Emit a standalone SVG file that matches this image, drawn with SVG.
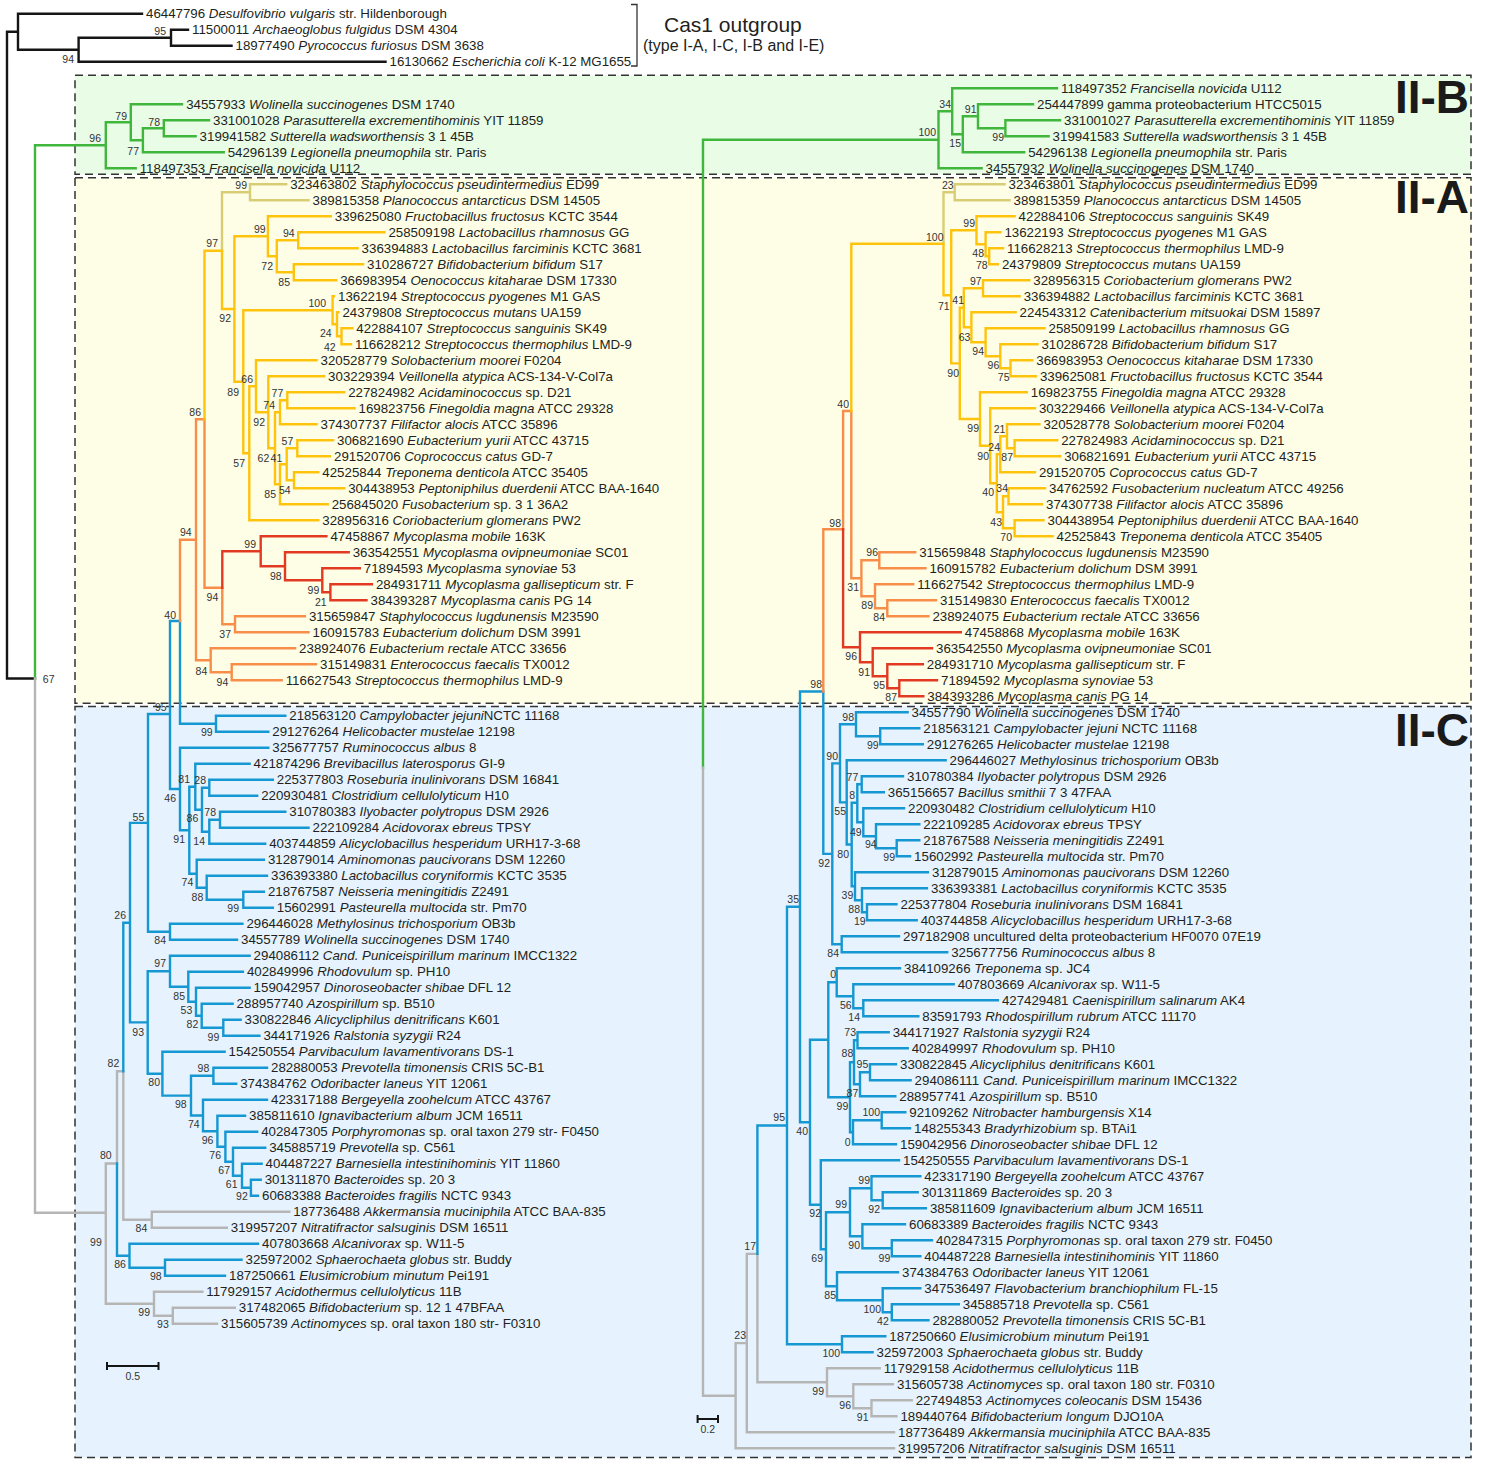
<svg xmlns="http://www.w3.org/2000/svg" width="1485" height="1459" viewBox="0 0 1485 1459">
<style>
.t{font-family:"Liberation Sans",Arial,sans-serif;font-size:13.3px;fill:#231f20}
.i{font-style:italic}
.s{font-family:"Liberation Sans",Arial,sans-serif;font-size:10.5px;fill:#333;text-anchor:end}
.big{font-family:"Liberation Sans",Arial,sans-serif;font-size:46px;font-weight:bold;fill:#1a1a1a;text-anchor:end}
.box{stroke:#333;stroke-width:1.5;stroke-dasharray:8 5}
path{fill:none;stroke-width:2.4;stroke-linecap:square}
.k{stroke:#151515}.g{stroke:#40b63c}.y{stroke:#fec30d}.l{stroke:#d8cd74}.o{stroke:#f88d4a}.r{stroke:#e23a22}.b{stroke:#1597d2}.a{stroke:#b5b5b5}
.sc{stroke:#151515;stroke-width:2;stroke-linecap:butt}
</style>
<rect width="1485" height="1459" fill="#fff"/>
<g id="clade-boxes">
<rect class="box" x="75" y="75.3" width="1396" height="99" fill="#e8fce6"/>
<rect class="box" x="75" y="177.7" width="1396" height="525.6" fill="#fefee7"/>
<rect class="box" x="75" y="706.5" width="1396" height="751" fill="#e6f3fe"/>
<text class="big" x="1469" y="113">II-B</text>
<text class="big" x="1469" y="213">II-A</text>
<text class="big" x="1469" y="746">II-C</text>
</g>
<g id="outgroup-note">
<path d="M631 4.5H637V66H631" style="stroke:#333;stroke-width:1.3;stroke-linecap:butt"/>
<text x="664" y="32" style="font-family:'Liberation Sans',Arial,sans-serif;font-size:21px;fill:#231f20">Cas1 outgroup</text>
<text x="643" y="51" style="font-family:'Liberation Sans',Arial,sans-serif;font-size:16px;fill:#231f20">(type I-A, I-C, I-B and I-E)</text>
</g>
<g id="connectors">
<path class="k" d="M7 31.7V678.5M7 31.7H18M18 13.7V49.7M18 13.7H142M18 49.7H78.6M78.6 37.7V61.7M78.6 37.7H171M171 29.7V45.7M171 29.7H188M171 45.7H231.5M78.6 61.7H385.5M7 678.5H35"/>
<path class="g" d="M35 145.3V678.5M35 145.3H105.8M105.8 122.3V168.3M105.8 168.3H135.7M105.8 122.3H130.8M130.8 104.3V140.3M130.8 104.3H182M130.8 140.3H142.9M142.9 128.3V152.3M142.9 152.3H223.7M142.9 128.3H163.8M163.8 120.3V136.3M163.8 120.3H209M163.8 136.3H195.6"/>
<path class="a" d="M35 678.5V1212.7M35 1212.7H105.8M105.8 1163.5V1303.7M105.8 1163.5H117M117 1071.2V1163.5M117 1071.2H123.3M123.3 1071.2V1219.7M123.3 1219.7H151.8M151.8 1211.7V1227.7M151.8 1211.7H289.3M151.8 1227.7H226.8M105.8 1303.7H154M154 1291.7V1315.7M154 1291.7H202.3M154 1315.7H172.8M172.8 1307.7V1323.7M172.8 1307.7H234.8M172.8 1323.7H217"/>
<path class="b" d="M117 1163.5V1255.7M117 1255.7H129.5M129.5 1243.7V1267.7M129.5 1243.7H258M129.5 1267.7H165M165 1259.7V1275.7M165 1259.7H241.5M165 1275.7H225M123.3 922.7V1071.2M123.3 922.7H130M130 822.9V1022.4M130 822.9H148M148 714V931.7M148 714H170M170 621V789M170 621H180M180 621V723.7M180 723.7H216M216 715.7V731.7M216 715.7H285.3M216 731.7H268.3M170 789H180M180 747.7V830.2M180 747.7H268.3M180 830.2H189.3M189.3 786.7V873.7M189.3 786.7H195.3M195.3 763.7V809.7M195.3 763.7H249.6M195.3 809.7H202M202 787.7V831.7M202 787.7H209.3M209.3 779.7V795.7M209.3 779.7H272.8M209.3 795.7H257.2M202 831.7H209.3M209.3 819.7V843.7M209.3 819.7H220M220 811.7V827.7M220 811.7H285.3M220 827.7H308.5M209.3 843.7H265.2M189.3 873.7H196.7M196.7 859.7V887.7M196.7 859.7H263.9M196.7 887.7H206.7M206.7 875.7V899.7M206.7 875.7H267M206.7 899.7H243.3M243.3 891.7V907.7M243.3 891.7H263.9M243.3 907.7H272.8M148 931.7H170M170 923.7V939.7M170 923.7H242.4M170 939.7H237M130 1022.4H147.7M147.7 971.2V1073.7M147.7 971.2H170M170 955.7V986.7M170 955.7H249.6M170 986.7H188.3M188.3 971.7V1001.7M188.3 971.7H242.9M188.3 1001.7H196M196 987.7V1015.7M196 987.7H249.6M196 1015.7H201.7M201.7 1003.7V1027.7M201.7 1003.7H232.6M201.7 1027.7H223.3M223.3 1019.7V1035.7M223.3 1019.7H240.6M223.3 1035.7H259.4M147.7 1073.7H162.4M162.4 1051.7V1095.6M162.4 1051.7H224.6M162.4 1095.6H191M191 1075.7V1115.5M191 1075.7H213.4M213.4 1067.7V1083.7M213.4 1067.7H267M213.4 1083.7H236.2M191 1115.5H203M203 1099.7V1131.2M203 1099.7H267M203 1131.2H217.4M217.4 1115.7V1146.7M217.4 1115.7H245.1M217.4 1146.7H225.4M225.4 1131.7V1161.7M225.4 1131.7H257.2M225.4 1161.7H233M233 1147.7V1175.7M233 1147.7H265.2M233 1175.7H242M242 1163.7V1187.7M242 1163.7H261.6M242 1187.7H250.9M250.9 1179.7V1195.7M250.9 1179.7H260.7M250.9 1195.7H258"/>
<path class="o" d="M180 539.8V621M180 539.8H196M196 419.3V660.3M196 419.3H204.5M204.5 419.3V587.8M204.5 587.8H222.3M222.3 587.8V624.3M222.3 624.3H235M235 616.3V632.3M235 616.3H304.9M235 632.3H308.5M196 660.3H210.7M210.7 648.3V672.3M210.7 648.3H295.1M210.7 672.3H231.7M231.7 664.3V680.3M231.7 664.3H316M231.7 680.3H281.7"/>
<path class="r" d="M222.3 551.3V587.8M222.3 551.3H260.7M260.7 536.3V566.3M260.7 536.3H326.4M260.7 566.3H285M285 552.3V580.3M285 552.3H348.7M285 580.3H322.3M322.3 568.3V592.3M322.3 568.3H359.8M322.3 592.3H330.4M330.4 584.3V600.3M330.4 584.3H371.9M330.4 600.3H366.5"/>
<path class="l" d="M222 192.3V250.7M222 192.3H250M250 184.3V200.3M250 184.3H286.2M250 200.3H308.5"/>
<path class="y" d="M204.5 250.7V419.3M204.5 250.7H222M222 250.7V309M222 309H234.4M234.4 236.3V381.8M234.4 236.3H267.9M267.9 216.3V256.3M267.9 216.3H330.8M267.9 256.3H276.8M276.8 240.3V272.3M276.8 240.3H298.2M298.2 232.3V248.3M298.2 232.3H384.4M298.2 248.3H357.6M276.8 272.3H293.8M293.8 264.3V280.3M293.8 264.3H363M293.8 280.3H336.2M234.4 381.8H243.3M243.3 310.3V453.3M243.3 310.3H332.6M332.6 296.3V324.3M332.6 296.3H334M332.6 324.3H337M337 312.3V336.3M337 312.3H338.4M337 336.3H341.5M341.5 328.3V344.3M341.5 328.3H352.3M341.5 344.3H351M243.3 453.3H249.3M249.3 386.3V520.3M249.3 520.3H318.3M249.3 386.3H256M256 360.3V412.3M256 360.3H316.5M256 412.3H268.3M268.3 376.3V448.3M268.3 376.3H324.1M268.3 448.3H275M275 412.3V484.3M275 412.3H280M280 400.3V424.3M280 400.3H287.3M287.3 392.3V408.3M287.3 392.3H344.2M287.3 408.3H354.5M280 424.3H316.5M275 484.3H280M280 464.3V504.3M280 464.3H286.7M286.7 448.3V480.3M286.7 448.3H297.3M297.3 440.3V456.3M297.3 440.3H333M297.3 456.3H330M286.7 480.3H294M294 472.3V488.3M294 472.3H318.3M294 488.3H344.2M280 504.3H327.7"/>
<path class="g" d="M703 139.8V767.7M703 139.8H938.5M938.5 111.3V168.3M938.5 168.3H981.6M938.5 111.3H952.2M952.2 88.3V134.3M952.2 88.3H1057M952.2 134.3H962.8M962.8 116.3V152.3M962.8 152.3H1024.2M962.8 116.3H978M978 104.3V128.3M978 104.3H1033M978 128.3H1005.4M1005.4 120.3V136.3M1005.4 120.3H1060M1005.4 136.3H1048.6"/>
<path class="a" d="M703 767.7V1395.7M703 1395.7H735.6M735.6 1343.1V1448.3M735.6 1448.3H894M735.6 1343.1H746.8M746.8 1253.9V1432.3M746.8 1432.3H894M746.8 1253.9H757.4M757.4 1253.9V1382.3M757.4 1382.3H827M827 1368.3V1396.3M827 1368.3H879.7M827 1396.3H853.3M853.3 1384.3V1408.3M853.3 1384.3H892.9M853.3 1408.3H871.5M871.5 1400.3V1416.3M871.5 1400.3H911.7M871.5 1416.3H896.4"/>
<path class="b" d="M757.4 1125.5V1253.9M757.4 1125.5H787M787 906.8V1344.3M787 1344.3H842M842 1336.3V1352.3M842 1336.3H885.3M842 1352.3H872.6M787 906.8H800M800 691.5V1122.3M800 691.5H823.3M823.3 691.5V853.9M823.3 853.9H832.3M832.3 763.4V944.3M832.3 944.3H841.7M841.7 936.3V952.3M841.7 936.3H899M841.7 952.3H947.2M832.3 763.4H840M840 724.3V802.4M840 724.3H856M856 712.3V736.3M856 712.3H907.6M856 736.3H880.2M880.2 728.3V744.3M880.2 728.3H919.3M880.2 744.3H922.8M840 802.4H846.7M846.7 760.3V844.5M846.7 760.3H945.6M846.7 844.5H851.7M851.7 802.8V886.3M851.7 802.8H857.3M857.3 784.3V822.3M857.3 784.3H861.7M861.7 776.3V792.3M861.7 776.3H903M861.7 792.3H883.8M857.3 822.3H863.3M863.3 808.3V836.3M863.3 808.3H904M863.3 836.3H876M876 824.3V848.3M876 824.3H919.3M876 848.3H896.7M896.7 840.3V856.3M896.7 840.3H919.3M896.7 856.3H910.1M851.7 886.3H855M855 872.3V900.3M855 872.3H927.9M855 900.3H862M862 888.3V912.3M862 888.3H926.9M862 912.3H867M867 904.3V920.3M867 904.3H896.4M867 920.3H916.7M800 1122.3H810M810 1039.8V1204.8M810 1039.8H828.3M828.3 982.3V1097.3M828.3 982.3H836.7M836.7 968.3V996.3M836.7 968.3H900M836.7 996.3H853.3M853.3 984.3V1008.3M853.3 984.3H953.7M853.3 1008.3H863.3M863.3 1000.3V1016.3M863.3 1000.3H997.9M863.3 1016.3H918.3M828.3 1097.3H850M850 1062.3V1132.3M850 1062.3H854M854 1040.3V1084.3M854 1040.3H857.5M857.5 1032.3V1048.3M857.5 1032.3H888.7M857.5 1048.3H907.7M854 1084.3H860M860 1072.3V1096.3M860 1072.3H870M870 1064.3V1080.3M870 1064.3H896M870 1080.3H910.6M860 1096.3H895.3M850 1132.3H853M853 1120.3V1144.3M853 1120.3H881.7M881.7 1112.3V1128.3M881.7 1112.3H905.3M881.7 1128.3H910M853 1144.3H896M810 1204.8H820.8M820.8 1160.3V1249.3M820.8 1160.3H899M820.8 1249.3H826M826 1212.3V1286.3M826 1212.3H850M850 1188.3V1236.3M850 1188.3H871.5M871.5 1176.3V1200.3M871.5 1176.3H920.3M871.5 1200.3H882.7M882.7 1192.3V1208.3M882.7 1192.3H917.7M882.7 1208.3H925.9M850 1236.3H862.4M862.4 1224.3V1248.3M862.4 1224.3H905M862.4 1248.3H891.8M891.8 1240.3V1256.3M891.8 1240.3H932M891.8 1256.3H920.3M826 1286.3H837M837 1272.3V1300.3M837 1272.3H898M837 1300.3H882.7M882.7 1288.3V1312.3M882.7 1288.3H920.3M882.7 1312.3H891.8M891.8 1304.3V1320.3M891.8 1304.3H958.8M891.8 1320.3H928.4"/>
<path class="o" d="M823.3 529.2V691.5M823.3 529.2H843.1M843.1 411V529.2M843.1 411H851.3M851.3 411V578.3M851.3 578.3H861.4M861.4 560.3V596.3M861.4 560.3H879.3M879.3 552.3V568.3M879.3 552.3H915.2M879.3 568.3H925.4M861.4 596.3H875M875 584.3V608.3M875 584.3H913.2M875 608.3H887.3M887.3 600.3V616.3M887.3 600.3H936M887.3 616.3H928.4"/>
<path class="r" d="M843.1 529.2V647.3M843.1 647.3H860M860 632.3V662.3M860 632.3H960.8M860 662.3H872.7M872.7 648.3V676.3M872.7 648.3H932M872.7 676.3H887.3M887.3 664.3V688.3M887.3 664.3H922.8M887.3 688.3H899.3M899.3 680.3V696.3M899.3 680.3H937M899.3 696.3H923.3"/>
<path class="l" d="M943.5 192.3V243.8M943.5 192.3H954.7M954.7 184.3V200.3M954.7 184.3H1004.5M954.7 200.3H1009.5"/>
<path class="y" d="M851.3 243.8V411M851.3 243.8H943.5M943.5 243.8V295.3M943.5 295.3H951.2M951.2 230.3V363.4M951.2 230.3H976.5M976.5 216.3V244.3M976.5 216.3H1014.6M976.5 244.3H985.6M985.6 232.3V256.3M985.6 232.3H1000.4M985.6 256.3H989.2M989.2 248.3V264.3M989.2 248.3H1003M989.2 264.3H997.9M951.2 363.4H959.8M959.8 307.8V419M959.8 307.8H963.8M963.8 288.3V327.3M963.8 288.3H983M983 280.3V296.3M983 280.3H1029.3M983 296.3H1019.7M963.8 327.3H971.4M971.4 312.3V342.3M971.4 312.3H1015.6M971.4 342.3H985.6M985.6 328.3V356.3M985.6 328.3H1044.5M985.6 356.3H1000.3M1000.3 344.3V368.3M1000.3 344.3H1037.4M1000.3 368.3H1010.5M1010.5 360.3V376.3M1010.5 360.3H1032.3M1010.5 376.3H1035.9M959.8 419H980M980 392.3V445.8M980 392.3H1026.8M980 445.8H990.2M990.2 408.3V483.3M990.2 408.3H1034.9M990.2 483.3H996.8M996.8 454.3V512.3M996.8 454.3H1000.3M1000.3 436.3V472.3M1000.3 472.3H1034.9M1000.3 436.3H1007M1007 424.3V448.3M1007 424.3H1039.4M1007 448.3H1014.6M1014.6 440.3V456.3M1014.6 440.3H1057.2M1014.6 456.3H1060.2M996.8 512.3H1003M1003 496.3V528.3M1003 496.3H1008.5M1008.5 488.3V504.3M1008.5 488.3H1045M1008.5 504.3H1042M1003 528.3H1014.6M1014.6 520.3V536.3M1014.6 520.3H1043.5M1014.6 536.3H1052.6"/>
</g>
<g id="scale-bars">
<path class="sc" d="M107 1366H158.5M107 1362V1370M158.5 1362V1370M697.6 1419H718M697.6 1415V1423M718 1415V1423"/>
<text class="s" x="140" y="1380">0.5</text>
<text class="s" x="715" y="1433">0.2</text>
</g>
<g id="left-outgroup">
<text class="t" x="146" y="18.3">46447796 <tspan class="i">Desulfovibrio vulgaris</tspan> str. Hildenborough</text>
<text class="t" x="192" y="34.3">11500011 <tspan class="i">Archaeoglobus fulgidus</tspan> DSM 4304</text>
<text class="t" x="235.5" y="50.3">18977490 <tspan class="i">Pyrococcus furiosus</tspan> DSM 3638</text>
<text class="t" x="389.5" y="66.3">16130662 <tspan class="i">Escherichia coli</tspan> K-12 MG1655</text>
</g>
<g id="left-IIB">
<text class="t" x="186.2" y="108.9">34557933 <tspan class="i">Wolinella succinogenes</tspan> DSM 1740</text>
<text class="t" x="213" y="124.9">331001028 <tspan class="i">Parasutterella excrementihominis</tspan> YIT 11859</text>
<text class="t" x="199.6" y="140.9">319941582 <tspan class="i">Sutterella wadsworthensis</tspan> 3 1 45B</text>
<text class="t" x="227.7" y="156.9">54296139 <tspan class="i">Legionella pneumophila</tspan> str. Paris</text>
<text class="t" x="139.7" y="172.9">118497353 <tspan class="i">Francisella novicida</tspan> U112</text>
</g>
<g id="left-IIA">
<text class="t" x="290.2" y="188.9">323463802 <tspan class="i">Staphylococcus pseudintermedius</tspan> ED99</text>
<text class="t" x="312.5" y="204.9">389815358 <tspan class="i">Planococcus antarcticus</tspan> DSM 14505</text>
<text class="t" x="334.8" y="220.9">339625080 <tspan class="i">Fructobacillus fructosus</tspan> KCTC 3544</text>
<text class="t" x="388.4" y="236.9">258509198 <tspan class="i">Lactobacillus rhamnosus</tspan> GG</text>
<text class="t" x="361.6" y="252.9">336394883 <tspan class="i">Lactobacillus farciminis</tspan> KCTC 3681</text>
<text class="t" x="367" y="268.9">310286727 <tspan class="i">Bifidobacterium bifidum</tspan> S17</text>
<text class="t" x="340.2" y="284.9">366983954 <tspan class="i">Oenococcus kitaharae</tspan> DSM 17330</text>
<text class="t" x="338" y="300.9">13622194 <tspan class="i">Streptococcus pyogenes</tspan> M1 GAS</text>
<text class="t" x="342.4" y="316.9">24379808 <tspan class="i">Streptococcus mutans</tspan> UA159</text>
<text class="t" x="356.3" y="332.9">422884107 <tspan class="i">Streptococcus sanguinis</tspan> SK49</text>
<text class="t" x="355" y="348.9">116628212 <tspan class="i">Streptococcus thermophilus</tspan> LMD-9</text>
<text class="t" x="320.5" y="364.9">320528779 <tspan class="i">Solobacterium moorei</tspan> F0204</text>
<text class="t" x="328.1" y="380.9">303229394 <tspan class="i">Veillonella atypica</tspan> ACS-134-V-Col7a</text>
<text class="t" x="348.2" y="396.9">227824982 <tspan class="i">Acidaminococcus</tspan> sp. D21</text>
<text class="t" x="358.5" y="412.9">169823756 <tspan class="i">Finegoldia magna</tspan> ATCC 29328</text>
<text class="t" x="320.5" y="428.9">374307737 <tspan class="i">Filifactor alocis</tspan> ATCC 35896</text>
<text class="t" x="337" y="444.9">306821690 <tspan class="i">Eubacterium yurii</tspan> ATCC 43715</text>
<text class="t" x="334" y="460.9">291520706 <tspan class="i">Coprococcus catus</tspan> GD-7</text>
<text class="t" x="322.3" y="476.9">42525844 <tspan class="i">Treponema denticola</tspan> ATCC 35405</text>
<text class="t" x="348.2" y="492.9">304438953 <tspan class="i">Peptoniphilus duerdenii</tspan> ATCC BAA-1640</text>
<text class="t" x="331.7" y="508.9">256845020 <tspan class="i">Fusobacterium</tspan> sp. 3 1 36A2</text>
<text class="t" x="322.3" y="524.9">328956316 <tspan class="i">Coriobacterium glomerans</tspan> PW2</text>
<text class="t" x="330.4" y="540.9">47458867 <tspan class="i">Mycoplasma mobile</tspan> 163K</text>
<text class="t" x="352.7" y="556.9">363542551 <tspan class="i">Mycoplasma ovipneumoniae</tspan> SC01</text>
<text class="t" x="363.8" y="572.9">71894593 <tspan class="i">Mycoplasma synoviae</tspan> 53</text>
<text class="t" x="375.9" y="588.9">284931711 <tspan class="i">Mycoplasma gallisepticum</tspan> str. F</text>
<text class="t" x="370.5" y="604.9">384393287 <tspan class="i">Mycoplasma canis</tspan> PG 14</text>
<text class="t" x="308.9" y="620.9">315659847 <tspan class="i">Staphylococcus lugdunensis</tspan> M23590</text>
<text class="t" x="312.5" y="636.9">160915783 <tspan class="i">Eubacterium dolichum</tspan> DSM 3991</text>
<text class="t" x="299.1" y="652.9">238924076 <tspan class="i">Eubacterium rectale</tspan> ATCC 33656</text>
<text class="t" x="320" y="668.9">315149831 <tspan class="i">Enterococcus faecalis</tspan> TX0012</text>
<text class="t" x="285.7" y="684.9">116627543 <tspan class="i">Streptococcus thermophilus</tspan> LMD-9</text>
</g>
<g id="left-IIC">
<text class="t" x="289.3" y="720.3">218563120 <tspan class="i">Campylobacter jejuni</tspan>NCTC 11168</text>
<text class="t" x="272.3" y="736.3">291276264 <tspan class="i">Helicobacter mustelae</tspan> 12198</text>
<text class="t" x="272.3" y="752.3">325677757 <tspan class="i">Ruminococcus albus</tspan> 8</text>
<text class="t" x="253.6" y="768.3">421874296 <tspan class="i">Brevibacillus laterosporus</tspan> GI-9</text>
<text class="t" x="276.8" y="784.3">225377803 <tspan class="i">Roseburia inulinivorans</tspan> DSM 16841</text>
<text class="t" x="261.2" y="800.3">220930481 <tspan class="i">Clostridium cellulolyticum</tspan> H10</text>
<text class="t" x="289.3" y="816.3">310780383 <tspan class="i">Ilyobacter polytropus</tspan> DSM 2926</text>
<text class="t" x="312.5" y="832.3">222109284 <tspan class="i">Acidovorax ebreus</tspan> TPSY</text>
<text class="t" x="269.2" y="848.3">403744859 <tspan class="i">Alicyclobacillus hesperidum</tspan> URH17-3-68</text>
<text class="t" x="267.9" y="864.3">312879014 <tspan class="i">Aminomonas paucivorans</tspan> DSM 12260</text>
<text class="t" x="271" y="880.3">336393380 <tspan class="i">Lactobacillus coryniformis</tspan> KCTC 3535</text>
<text class="t" x="267.9" y="896.3">218767587 <tspan class="i">Neisseria meningitidis</tspan> Z2491</text>
<text class="t" x="276.8" y="912.3">15602991 <tspan class="i">Pasteurella multocida</tspan> str. Pm70</text>
<text class="t" x="246.4" y="928.3">296446028 <tspan class="i">Methylosinus trichosporium</tspan> OB3b</text>
<text class="t" x="241" y="944.3">34557789 <tspan class="i">Wolinella succinogenes</tspan> DSM 1740</text>
<text class="t" x="253.6" y="960.3">294086112 <tspan class="i">Cand. Puniceispirillum marinum</tspan> IMCC1322</text>
<text class="t" x="246.9" y="976.3">402849996 <tspan class="i">Rhodovulum</tspan> sp. PH10</text>
<text class="t" x="253.6" y="992.3">159042957 <tspan class="i">Dinoroseobacter shibae</tspan> DFL 12</text>
<text class="t" x="236.6" y="1008.3">288957740 <tspan class="i">Azospirillum</tspan> sp. B510</text>
<text class="t" x="244.6" y="1024.3">330822846 <tspan class="i">Alicycliphilus denitrificans</tspan> K601</text>
<text class="t" x="263.4" y="1040.3">344171926 <tspan class="i">Ralstonia syzygii</tspan> R24</text>
<text class="t" x="228.6" y="1056.3">154250554 <tspan class="i">Parvibaculum lavamentivorans</tspan> DS-1</text>
<text class="t" x="271" y="1072.3">282880053 <tspan class="i">Prevotella timonensis</tspan> CRIS 5C-B1</text>
<text class="t" x="240.2" y="1088.3">374384762 <tspan class="i">Odoribacter laneus</tspan> YIT 12061</text>
<text class="t" x="271" y="1104.3">423317188 <tspan class="i">Bergeyella zoohelcum</tspan> ATCC 43767</text>
<text class="t" x="249.1" y="1120.3">385811610 <tspan class="i">Ignavibacterium album</tspan> JCM 16511</text>
<text class="t" x="261.2" y="1136.3">402847305 <tspan class="i">Porphyromonas</tspan> sp. oral taxon 279 str- F0450</text>
<text class="t" x="269.2" y="1152.3">345885719 <tspan class="i">Prevotella</tspan> sp. C561</text>
<text class="t" x="265.6" y="1168.3">404487227 <tspan class="i">Barnesiella intestinihominis</tspan> YIT 11860</text>
<text class="t" x="264.7" y="1184.3">301311870 <tspan class="i">Bacteroides</tspan> sp. 20 3</text>
<text class="t" x="262" y="1200.3">60683388 <tspan class="i">Bacteroides fragilis</tspan> NCTC 9343</text>
<text class="t" x="293.3" y="1216.3">187736488 <tspan class="i">Akkermansia muciniphila</tspan> ATCC BAA-835</text>
<text class="t" x="230.8" y="1232.3">319957207 <tspan class="i">Nitratifractor salsuginis</tspan> DSM 16511</text>
<text class="t" x="262" y="1248.3">407803668 <tspan class="i">Alcanivorax</tspan> sp. W11-5</text>
<text class="t" x="245.5" y="1264.3">325972002 <tspan class="i">Sphaerochaeta globus</tspan> str. Buddy</text>
<text class="t" x="229" y="1280.3">187250661 <tspan class="i">Elusimicrobium minutum</tspan> Pei191</text>
<text class="t" x="206.3" y="1296.3">117929157 <tspan class="i">Acidothermus cellulolyticus</tspan> 11B</text>
<text class="t" x="238.8" y="1312.3">317482065 <tspan class="i">Bifidobacterium</tspan> sp. 12 1 47BFAA</text>
<text class="t" x="221" y="1328.3">315605739 <tspan class="i">Actinomyces</tspan> sp. oral taxon 180 str- F0310</text>
</g>
<g id="right-IIB">
<text class="t" x="1061" y="92.9">118497352 <tspan class="i">Francisella novicida</tspan> U112</text>
<text class="t" x="1037" y="108.9">254447899 gamma proteobacterium HTCC5015</text>
<text class="t" x="1064" y="124.9">331001027 <tspan class="i">Parasutterella excrementihominis</tspan> YIT 11859</text>
<text class="t" x="1052.6" y="140.9">319941583 <tspan class="i">Sutterella wadsworthensis</tspan> 3 1 45B</text>
<text class="t" x="1028.2" y="156.9">54296138 <tspan class="i">Legionella pneumophila</tspan> str. Paris</text>
<text class="t" x="985.6" y="172.9">34557932 <tspan class="i">Wolinella succinogenes</tspan> DSM 1740</text>
</g>
<g id="right-IIA">
<text class="t" x="1008.5" y="188.9">323463801 <tspan class="i">Staphylococcus pseudintermedius</tspan> ED99</text>
<text class="t" x="1013.5" y="204.9">389815359 <tspan class="i">Planococcus antarcticus</tspan> DSM 14505</text>
<text class="t" x="1018.6" y="220.9">422884106 <tspan class="i">Streptococcus sanguinis</tspan> SK49</text>
<text class="t" x="1004.4" y="236.9">13622193 <tspan class="i">Streptococcus pyogenes</tspan> M1 GAS</text>
<text class="t" x="1007" y="252.9">116628213 <tspan class="i">Streptococcus thermophilus</tspan> LMD-9</text>
<text class="t" x="1001.9" y="268.9">24379809 <tspan class="i">Streptococcus mutans</tspan> UA159</text>
<text class="t" x="1033.3" y="284.9">328956315 <tspan class="i">Coriobacterium glomerans</tspan> PW2</text>
<text class="t" x="1023.7" y="300.9">336394882 <tspan class="i">Lactobacillus farciminis</tspan> KCTC 3681</text>
<text class="t" x="1019.6" y="316.9">224543312 <tspan class="i">Catenibacterium mitsuokai</tspan> DSM 15897</text>
<text class="t" x="1048.5" y="332.9">258509199 <tspan class="i">Lactobacillus rhamnosus</tspan> GG</text>
<text class="t" x="1041.4" y="348.9">310286728 <tspan class="i">Bifidobacterium bifidum</tspan> S17</text>
<text class="t" x="1036.3" y="364.9">366983953 <tspan class="i">Oenococcus kitaharae</tspan> DSM 17330</text>
<text class="t" x="1039.9" y="380.9">339625081 <tspan class="i">Fructobacillus fructosus</tspan> KCTC 3544</text>
<text class="t" x="1030.8" y="396.9">169823755 <tspan class="i">Finegoldia magna</tspan> ATCC 29328</text>
<text class="t" x="1038.9" y="412.9">303229466 <tspan class="i">Veillonella atypica</tspan> ACS-134-V-Col7a</text>
<text class="t" x="1043.4" y="428.9">320528778 <tspan class="i">Solobacterium moorei</tspan> F0204</text>
<text class="t" x="1061.2" y="444.9">227824983 <tspan class="i">Acidaminococcus</tspan> sp. D21</text>
<text class="t" x="1064.2" y="460.9">306821691 <tspan class="i">Eubacterium yurii</tspan> ATCC 43715</text>
<text class="t" x="1038.9" y="476.9">291520705 <tspan class="i">Coprococcus catus</tspan> GD-7</text>
<text class="t" x="1049" y="492.9">34762592 <tspan class="i">Fusobacterium nucleatum</tspan> ATCC 49256</text>
<text class="t" x="1046" y="508.9">374307738 <tspan class="i">Filifactor alocis</tspan> ATCC 35896</text>
<text class="t" x="1047.5" y="524.9">304438954 <tspan class="i">Peptoniphilus duerdenii</tspan> ATCC BAA-1640</text>
<text class="t" x="1056.6" y="540.9">42525843 <tspan class="i">Treponema denticola</tspan> ATCC 35405</text>
<text class="t" x="919.2" y="556.9">315659848 <tspan class="i">Staphylococcus lugdunensis</tspan> M23590</text>
<text class="t" x="929.4" y="572.9">160915782 <tspan class="i">Eubacterium dolichum</tspan> DSM 3991</text>
<text class="t" x="917.2" y="588.9">116627542 <tspan class="i">Streptococcus thermophilus</tspan> LMD-9</text>
<text class="t" x="940" y="604.9">315149830 <tspan class="i">Enterococcus faecalis</tspan> TX0012</text>
<text class="t" x="932.4" y="620.9">238924075 <tspan class="i">Eubacterium rectale</tspan> ATCC 33656</text>
<text class="t" x="964.8" y="636.9">47458868 <tspan class="i">Mycoplasma mobile</tspan> 163K</text>
<text class="t" x="936" y="652.9">363542550 <tspan class="i">Mycoplasma ovipneumoniae</tspan> SC01</text>
<text class="t" x="926.8" y="668.9">284931710 <tspan class="i">Mycoplasma gallisepticum</tspan> str. F</text>
<text class="t" x="941" y="684.9">71894592 <tspan class="i">Mycoplasma synoviae</tspan> 53</text>
<text class="t" x="927.3" y="700.9">384393286 <tspan class="i">Mycoplasma canis</tspan> PG 14</text>
</g>
<g id="right-IIC">
<text class="t" x="911.6" y="716.9">34557790 <tspan class="i">Wolinella succinogenes</tspan> DSM 1740</text>
<text class="t" x="923.3" y="732.9">218563121 <tspan class="i">Campylobacter jejuni</tspan> NCTC 11168</text>
<text class="t" x="926.8" y="748.9">291276265 <tspan class="i">Helicobacter mustelae</tspan> 12198</text>
<text class="t" x="949.6" y="764.9">296446027 <tspan class="i">Methylosinus trichosporium</tspan> OB3b</text>
<text class="t" x="907" y="780.9">310780384 <tspan class="i">Ilyobacter polytropus</tspan> DSM 2926</text>
<text class="t" x="887.8" y="796.9">365156657 <tspan class="i">Bacillus smithii</tspan> 7 3 47FAA</text>
<text class="t" x="908" y="812.9">220930482 <tspan class="i">Clostridium cellulolyticum</tspan> H10</text>
<text class="t" x="923.3" y="828.9">222109285 <tspan class="i">Acidovorax ebreus</tspan> TPSY</text>
<text class="t" x="923.3" y="844.9">218767588 <tspan class="i">Neisseria meningitidis</tspan> Z2491</text>
<text class="t" x="914.1" y="860.9">15602992 <tspan class="i">Pasteurella multocida</tspan> str. Pm70</text>
<text class="t" x="931.9" y="876.9">312879015 <tspan class="i">Aminomonas paucivorans</tspan> DSM 12260</text>
<text class="t" x="930.9" y="892.9">336393381 <tspan class="i">Lactobacillus coryniformis</tspan> KCTC 3535</text>
<text class="t" x="900.4" y="908.9">225377804 <tspan class="i">Roseburia inulinivorans</tspan> DSM 16841</text>
<text class="t" x="920.7" y="924.9">403744858 <tspan class="i">Alicyclobacillus hesperidum</tspan> URH17-3-68</text>
<text class="t" x="903" y="940.9">297182908 uncultured delta proteobacterium HF0070 07E19</text>
<text class="t" x="951.2" y="956.9">325677756 <tspan class="i">Ruminococcus albus</tspan> 8</text>
<text class="t" x="904" y="972.9">384109266 <tspan class="i">Treponema</tspan> sp. JC4</text>
<text class="t" x="957.7" y="988.9">407803669 <tspan class="i">Alcanivorax</tspan> sp. W11-5</text>
<text class="t" x="1001.9" y="1004.9">427429481 <tspan class="i">Caenispirillum salinarum</tspan> AK4</text>
<text class="t" x="922.3" y="1020.9">83591793 <tspan class="i">Rhodospirillum rubrum</tspan> ATCC 11170</text>
<text class="t" x="892.7" y="1036.9">344171927 <tspan class="i">Ralstonia syzygii</tspan> R24</text>
<text class="t" x="911.7" y="1052.9">402849997 <tspan class="i">Rhodovulum</tspan> sp. PH10</text>
<text class="t" x="900" y="1068.9">330822845 <tspan class="i">Alicycliphilus denitrificans</tspan> K601</text>
<text class="t" x="914.6" y="1084.9">294086111 <tspan class="i">Cand. Puniceispirillum marinum</tspan> IMCC1322</text>
<text class="t" x="899.3" y="1100.9">288957741 <tspan class="i">Azospirillum</tspan> sp. B510</text>
<text class="t" x="909.3" y="1116.9">92109262 <tspan class="i">Nitrobacter hamburgensis</tspan> X14</text>
<text class="t" x="914" y="1132.9">148255343 <tspan class="i">Bradyrhizobium</tspan> sp. BTAi1</text>
<text class="t" x="900" y="1148.9">159042956 <tspan class="i">Dinoroseobacter shibae</tspan> DFL 12</text>
<text class="t" x="903" y="1164.9">154250555 <tspan class="i">Parvibaculum lavamentivorans</tspan> DS-1</text>
<text class="t" x="924.3" y="1180.9">423317190 <tspan class="i">Bergeyella zoohelcum</tspan> ATCC 43767</text>
<text class="t" x="921.7" y="1196.9">301311869 <tspan class="i">Bacteroides</tspan> sp. 20 3</text>
<text class="t" x="929.9" y="1212.9">385811609 <tspan class="i">Ignavibacterium album</tspan> JCM 16511</text>
<text class="t" x="909" y="1228.9">60683389 <tspan class="i">Bacteroides fragilis</tspan> NCTC 9343</text>
<text class="t" x="936" y="1244.9">402847315 <tspan class="i">Porphyromonas</tspan> sp. oral taxon 279 str. F0450</text>
<text class="t" x="924.3" y="1260.9">404487228 <tspan class="i">Barnesiella intestinihominis</tspan> YIT 11860</text>
<text class="t" x="902" y="1276.9">374384763 <tspan class="i">Odoribacter laneus</tspan> YIT 12061</text>
<text class="t" x="924.3" y="1292.9">347536497 <tspan class="i">Flavobacterium branchiophilum</tspan> FL-15</text>
<text class="t" x="962.8" y="1308.9">345885718 <tspan class="i">Prevotella</tspan> sp. C561</text>
<text class="t" x="932.4" y="1324.9">282880052 <tspan class="i">Prevotella timonensis</tspan> CRIS 5C-B1</text>
<text class="t" x="889.3" y="1340.9">187250660 <tspan class="i">Elusimicrobium minutum</tspan> Pei191</text>
<text class="t" x="876.6" y="1356.9">325972003 <tspan class="i">Sphaerochaeta globus</tspan> str. Buddy</text>
<text class="t" x="883.7" y="1372.9">117929158 <tspan class="i">Acidothermus cellulolyticus</tspan> 11B</text>
<text class="t" x="896.9" y="1388.9">315605738 <tspan class="i">Actinomyces</tspan> sp. oral taxon 180 str. F0310</text>
<text class="t" x="915.7" y="1404.9">227494853 <tspan class="i">Actinomyces coleocanis</tspan> DSM 15436</text>
<text class="t" x="900.4" y="1420.9">189440764 <tspan class="i">Bifidobacterium longum</tspan> DJO10A</text>
<text class="t" x="898" y="1436.9">187736489 <tspan class="i">Akkermansia muciniphila</tspan> ATCC BAA-835</text>
<text class="t" x="898" y="1452.9">319957206 <tspan class="i">Nitratifractor salsuginis</tspan> DSM 16511</text>
</g>
<g id="support-values-left">
<text class="s" x="166" y="34.8">95</text><text class="s" x="74" y="62.5">94</text><text class="s" x="101" y="141.8">96</text><text class="s" x="127" y="119.5">79</text><text class="s" x="160" y="125.5">78</text><text class="s" x="139" y="154.5">77</text>
<text class="s" x="247" y="188.8">99</text><text class="s" x="218" y="247.1">97</text><text class="s" x="265.6" y="233.1">99</text><text class="s" x="294.6" y="237.1">94</text><text class="s" x="273" y="269.8">72</text><text class="s" x="290" y="286.1">85</text><text class="s" x="231" y="322.1">92</text><text class="s" x="326" y="307.1">100</text><text class="s" x="331.7" y="337.1">24</text><text class="s" x="335.7" y="350.5">42</text>
<text class="s" x="253" y="382.8">66</text><text class="s" x="239" y="395.8">89</text><text class="s" x="283.3" y="397.1">77</text><text class="s" x="275" y="408.8">74</text><text class="s" x="265" y="426.1">92</text><text class="s" x="201" y="416.1">86</text><text class="s" x="293.3" y="444.8">57</text><text class="s" x="269.3" y="462.1">62</text><text class="s" x="282.3" y="462.1">41</text><text class="s" x="245" y="467.1">57</text><text class="s" x="290.7" y="493.8">54</text><text class="s" x="276" y="498.1">85</text>
<text class="s" x="191.7" y="536.1">94</text><text class="s" x="256" y="547.8">99</text><text class="s" x="281.7" y="579.5">98</text><text class="s" x="319.3" y="593.8">99</text><text class="s" x="326.7" y="605.5">21</text><text class="s" x="218.3" y="601.1">94</text><text class="s" x="231" y="638.1">37</text><text class="s" x="176" y="618.8">40</text><text class="s" x="207.3" y="674.5">84</text><text class="s" x="228.3" y="686.1">94</text><text class="s" x="54.5" y="683.1">67</text>
<text class="s" x="166.7" y="710.8">95</text><text class="s" x="212.7" y="736.1">99</text><text class="s" x="190" y="782.8">81</text><text class="s" x="206" y="783.8">28</text><text class="s" x="176" y="802.1">46</text><text class="s" x="216" y="815.5">78</text><text class="s" x="198.3" y="822.1">86</text><text class="s" x="144.3" y="820.5">55</text><text class="s" x="185" y="843.1">91</text><text class="s" x="205" y="844.8">14</text><text class="s" x="193.3" y="886.1">74</text><text class="s" x="203.3" y="900.5">88</text><text class="s" x="239" y="912.1">99</text><text class="s" x="126" y="918.8">26</text><text class="s" x="166" y="943.8">84</text><text class="s" x="166" y="967.1">97</text><text class="s" x="185" y="999.5">85</text><text class="s" x="192.3" y="1013.8">53</text><text class="s" x="198.3" y="1027.8">82</text><text class="s" x="144" y="1035.5">93</text><text class="s" x="219.3" y="1040.5">99</text><text class="s" x="119.3" y="1067.1">82</text><text class="s" x="209.3" y="1072.1">98</text><text class="s" x="160" y="1085.5">80</text><text class="s" x="186.6" y="1107.8">98</text><text class="s" x="199.6" y="1127.8">74</text><text class="s" x="213.4" y="1143.8">96</text><text class="s" x="111.6" y="1158.8">80</text><text class="s" x="221" y="1158.8">76</text><text class="s" x="230" y="1173.8">67</text><text class="s" x="237.5" y="1188.1">61</text><text class="s" x="247.8" y="1199.8">92</text><text class="s" x="147.3" y="1232.1">84</text><text class="s" x="101.8" y="1246.1">99</text><text class="s" x="125.9" y="1267.8">86</text><text class="s" x="161.6" y="1279.8">98</text><text class="s" x="150" y="1315.5">99</text><text class="s" x="168.8" y="1328.1">93</text>
</g>
<g id="support-values-right">
<text class="s" x="951" y="107.8">34</text><text class="s" x="976.5" y="112.8">91</text><text class="s" x="936" y="136.1">100</text><text class="s" x="1004" y="140.8">99</text><text class="s" x="961" y="146.8">15</text>
<text class="s" x="953.7" y="188.8">23</text><text class="s" x="975" y="226.8">99</text><text class="s" x="943.5" y="240.8">100</text><text class="s" x="984" y="256.8">48</text><text class="s" x="987.6" y="268.8">78</text><text class="s" x="981.6" y="284.8">97</text><text class="s" x="964" y="303.8">41</text><text class="s" x="949.6" y="309.8">71</text><text class="s" x="970.4" y="340.8">63</text><text class="s" x="984" y="354.8">94</text><text class="s" x="999.3" y="368.8">96</text><text class="s" x="959" y="376.8">90</text><text class="s" x="1009.5" y="380.8">75</text>
<text class="s" x="849" y="407.8">40</text><text class="s" x="979" y="431.8">99</text><text class="s" x="1005.4" y="432.8">21</text><text class="s" x="1000" y="450.8">24</text><text class="s" x="989" y="459.8">90</text><text class="s" x="1013" y="460.8">87</text><text class="s" x="1008" y="491.8">34</text><text class="s" x="994" y="495.8">40</text><text class="s" x="1002" y="525.8">43</text><text class="s" x="1012" y="540.8">70</text>
<text class="s" x="841" y="526.5">98</text><text class="s" x="878" y="555.8">96</text><text class="s" x="859" y="590.8">31</text><text class="s" x="873" y="608.8">89</text><text class="s" x="885" y="620.8">84</text><text class="s" x="857" y="659.8">96</text><text class="s" x="870" y="675.8">91</text><text class="s" x="885" y="688.8">95</text><text class="s" x="897" y="700.8">87</text><text class="s" x="822" y="687.8">98</text>
<text class="s" x="854" y="720.5">98</text><text class="s" x="878.6" y="748.8">99</text><text class="s" x="838" y="759.8">90</text><text class="s" x="858.3" y="780.5">77</text><text class="s" x="855" y="798.8">8</text><text class="s" x="846" y="814.8">55</text><text class="s" x="861.7" y="835.5">49</text><text class="s" x="876.7" y="847.8">94</text><text class="s" x="849" y="857.8">80</text><text class="s" x="895" y="860.8">99</text><text class="s" x="830" y="866.8">92</text><text class="s" x="853.3" y="898.8">39</text><text class="s" x="799" y="902.8">35</text><text class="s" x="860" y="912.8">88</text><text class="s" x="865.7" y="924.8">19</text><text class="s" x="839" y="956.8">84</text>
<text class="s" x="836" y="977.8">0</text><text class="s" x="851.7" y="1008.8">56</text><text class="s" x="860" y="1020.5">14</text><text class="s" x="856" y="1035.8">73</text><text class="s" x="853.3" y="1056.8">88</text><text class="s" x="868.3" y="1067.8">95</text><text class="s" x="858.3" y="1096.8">87</text><text class="s" x="848.3" y="1109.8">99</text><text class="s" x="880" y="1115.8">100</text><text class="s" x="785" y="1120.8">95</text><text class="s" x="808" y="1134.8">40</text><text class="s" x="850.7" y="1145.5">0</text>
<text class="s" x="870" y="1183.8">99</text><text class="s" x="847" y="1207.8">99</text><text class="s" x="880" y="1212.8">92</text><text class="s" x="821" y="1216.8">92</text><text class="s" x="860" y="1248.8">90</text><text class="s" x="756" y="1249.8">17</text><text class="s" x="890.3" y="1261.5">99</text><text class="s" x="823" y="1261.8">69</text><text class="s" x="836" y="1298.8">85</text><text class="s" x="881" y="1312.8">100</text><text class="s" x="888.8" y="1324.5">42</text><text class="s" x="746" y="1338.8">23</text><text class="s" x="840" y="1356.8">100</text><text class="s" x="824" y="1394.8">99</text><text class="s" x="851" y="1408.8">96</text><text class="s" x="868.5" y="1420.8">91</text>
</g>
</svg>
